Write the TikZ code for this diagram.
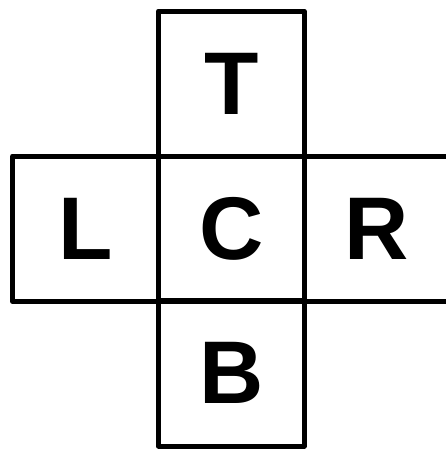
\documentclass[tikz,border=0pt]{standalone}
\usepackage{fontspec}
\setmainfont{Liberation Sans}
\begin{document}
\begin{tikzpicture}[x=1pt,y=-1pt,
  cell/.style={draw=black,line width=5pt,line join=round,minimum width=145.5pt,minimum height=145.5pt,inner sep=0pt,outer sep=0pt,
    font=\fontsize{89}{89}\selectfont\bfseries}]
\useasboundingbox (0,0) rectangle (446,450);
\begin{scope}
\clip (0,0) rectangle (446,450);
\node[cell] (T) at (231.25,83.75) {T};
\node[cell] (L) at (85.5,228.75) {L};
\node[cell] (C) at (231.25,228.75) {C};
\node[cell] (R) at (377,228.75) {R};
\node[cell] (B) at (231.25,373.25) {B};
\end{scope}
\end{tikzpicture}
\end{document}
